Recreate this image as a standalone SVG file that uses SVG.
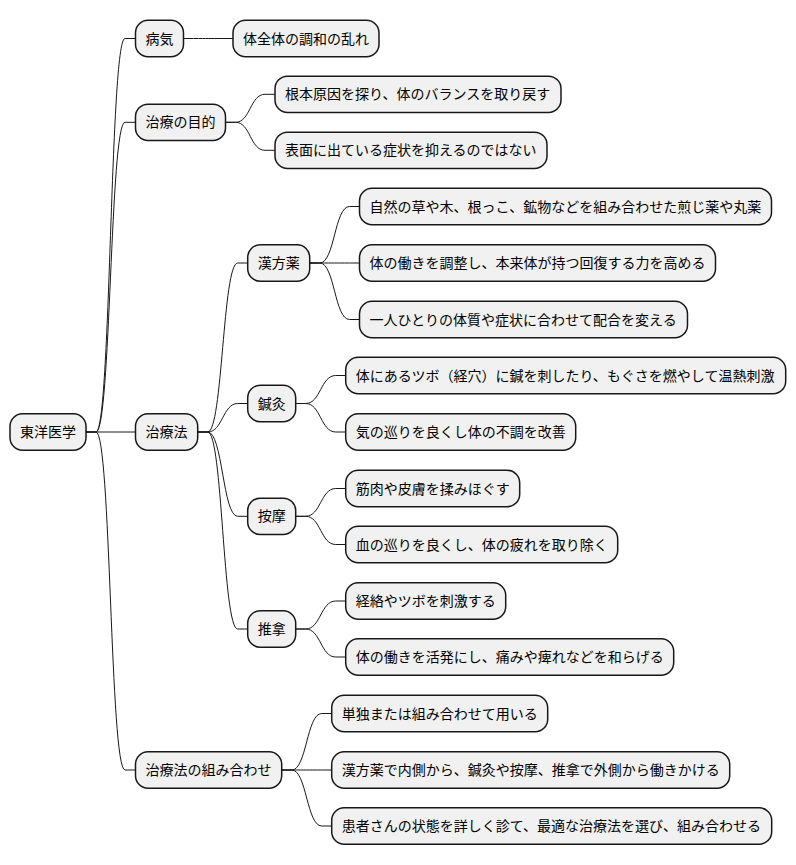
<svg xmlns="http://www.w3.org/2000/svg" width="796" height="865" viewBox="0 0 796 865">
<style>
.n rect{fill:#F1F1F1;stroke:#181818;stroke-width:1.5}
.n text{font-family:"Noto Sans CJK JP","Noto Sans",sans-serif;font-size:14px;fill:#000}
#edges path{fill:none;stroke:#181818;stroke-width:1}
</style>
<rect width="796" height="865" fill="#FFFFFF"/>
<g id="edges">
<path d="M86,432 L96,432 C111,432 110,38.5 125,38.5 L135.5,38.5"/>
<path d="M86,432 L96,432 C111,432 110,122.3 125,122.3 L135.5,122.3"/>
<path d="M86,432 L96,432 C111,432 110,432 125,432 L135.5,432"/>
<path d="M86,432 L96,432 C111,432 110,770 125,770 L135.5,770"/>
<path d="M183.5,38.5 L193.5,38.5 C208.5,38.5 208,38.5 223,38.5 L233,38.5"/>
<path d="M225.5,122.3 L235.5,122.3 C250.5,122.3 250,94.3 265,94.3 L275,94.3"/>
<path d="M225.5,122.3 L235.5,122.3 C250.5,122.3 250,150.3 265,150.3 L275,150.3"/>
<path d="M197.7,432 L207.7,432 C222.7,432 222.7,263 237.7,263 L247.7,263"/>
<path d="M197.7,432 L207.7,432 C222.7,432 222.7,403.5 237.7,403.5 L247.7,403.5"/>
<path d="M197.7,432 L207.7,432 C222.7,432 222.7,516.3 237.7,516.3 L247.7,516.3"/>
<path d="M197.7,432 L207.7,432 C222.7,432 222.7,629 237.7,629 L247.7,629"/>
<path d="M309.7,263 L319.7,263 C334.7,263 334.5,206.5 349.5,206.5 L359.5,206.5"/>
<path d="M309.7,263 L319.7,263 C334.7,263 334.5,263 349.5,263 L359.5,263"/>
<path d="M309.7,263 L319.7,263 C334.7,263 334.5,319.5 349.5,319.5 L359.5,319.5"/>
<path d="M295.7,403.5 L305.7,403.5 C320.7,403.5 320.7,375.5 335.7,375.5 L345.7,375.5"/>
<path d="M295.7,403.5 L305.7,403.5 C320.7,403.5 320.7,432 335.7,432 L345.7,432"/>
<path d="M295.7,516.3 L305.7,516.3 C320.7,516.3 320.7,488.5 335.7,488.5 L345.7,488.5"/>
<path d="M295.7,516.3 L305.7,516.3 C320.7,516.3 320.7,544.5 335.7,544.5 L345.7,544.5"/>
<path d="M295.7,629 L305.7,629 C320.7,629 320.7,601 335.7,601 L345.7,601"/>
<path d="M295.7,629 L305.7,629 C320.7,629 320.7,657 335.7,657 L345.7,657"/>
<path d="M281.7,770 L291.7,770 C306.7,770 306.7,713.5 321.7,713.5 L331.7,713.5"/>
<path d="M281.7,770 L291.7,770 C306.7,770 306.7,770 321.7,770 L331.7,770"/>
<path d="M281.7,770 L291.7,770 C306.7,770 306.7,826 321.7,826 L331.7,826"/>
</g>
<g id="root" class="n"><rect x="10" y="413.85" width="76" height="36.3" rx="12.5"/><text x="20" y="437">東洋医学</text></g>
<g id="n_byoki" class="n"><rect x="135.5" y="20.35" width="48" height="36.3" rx="12.5"/><text x="145.5" y="43.5">病気</text></g>
<g id="n_byoki1" class="n"><rect x="233" y="20.35" width="146" height="36.3" rx="12.5"/><text x="243" y="43.5">体全体の調和の乱れ</text></g>
<g id="n_mokuteki" class="n"><rect x="135.5" y="104.15" width="90" height="36.3" rx="12.5"/><text x="145.5" y="127.3">治療の目的</text></g>
<g id="n_mokuteki1" class="n"><rect x="275" y="76.15" width="286" height="36.3" rx="12.5"/><text x="285" y="99.3">根本原因を探り、体のバランスを取り戻す</text></g>
<g id="n_mokuteki2" class="n"><rect x="275" y="132.15" width="272" height="36.3" rx="12.5"/><text x="285" y="155.3">表面に出ている症状を抑えるのではない</text></g>
<g id="n_chiryoho" class="n"><rect x="135.5" y="413.85" width="62.2" height="36.3" rx="12.5"/><text x="145.5" y="437">治療法</text></g>
<g id="n_kampo" class="n"><rect x="247.7" y="244.85" width="62" height="36.3" rx="12.5"/><text x="257.7" y="268">漢方薬</text></g>
<g id="n_kampo1" class="n"><rect x="359.5" y="188.35" width="412" height="36.3" rx="12.5"/><text x="369.5" y="211.5">自然の草や木、根っこ、鉱物などを組み合わせた煎じ薬や丸薬</text></g>
<g id="n_kampo2" class="n"><rect x="359.5" y="244.85" width="356" height="36.3" rx="12.5"/><text x="369.5" y="268">体の働きを調整し、本来体が持つ回復する力を高める</text></g>
<g id="n_kampo3" class="n"><rect x="359.5" y="301.35" width="328" height="36.3" rx="12.5"/><text x="369.5" y="324.5">一人ひとりの体質や症状に合わせて配合を変える</text></g>
<g id="n_shinkyu" class="n"><rect x="247.7" y="385.35" width="48" height="36.3" rx="12.5"/><text x="257.7" y="408.5">鍼灸</text></g>
<g id="n_shinkyu1" class="n"><rect x="345.7" y="357.35" width="440" height="36.3" rx="12.5"/><text x="355.7" y="380.5">体にあるツボ（経穴）に鍼を刺したり、もぐさを燃やして温熱刺激</text></g>
<g id="n_shinkyu2" class="n"><rect x="345.7" y="413.85" width="230" height="36.3" rx="12.5"/><text x="355.7" y="437">気の巡りを良くし体の不調を改善</text></g>
<g id="n_amma" class="n"><rect x="247.7" y="498.15" width="48" height="36.3" rx="12.5"/><text x="257.7" y="521.3">按摩</text></g>
<g id="n_amma1" class="n"><rect x="345.7" y="470.35" width="174" height="36.3" rx="12.5"/><text x="355.7" y="493.5">筋肉や皮膚を揉みほぐす</text></g>
<g id="n_amma2" class="n"><rect x="345.7" y="526.35" width="272" height="36.3" rx="12.5"/><text x="355.7" y="549.5">血の巡りを良くし、体の疲れを取り除く</text></g>
<g id="n_suina" class="n"><rect x="247.7" y="610.85" width="48" height="36.3" rx="12.5"/><text x="257.7" y="634">推拿</text></g>
<g id="n_suina1" class="n"><rect x="345.7" y="582.85" width="160" height="36.3" rx="12.5"/><text x="355.7" y="606">経絡やツボを刺激する</text></g>
<g id="n_suina2" class="n"><rect x="345.7" y="638.85" width="328" height="36.3" rx="12.5"/><text x="355.7" y="662">体の働きを活発にし、痛みや痺れなどを和らげる</text></g>
<g id="n_kumiawase" class="n"><rect x="135.5" y="751.85" width="146.2" height="36.3" rx="12.5"/><text x="145.5" y="775">治療法の組み合わせ</text></g>
<g id="n_kumiawase1" class="n"><rect x="331.7" y="695.35" width="216" height="36.3" rx="12.5"/><text x="341.7" y="718.5">単独または組み合わせて用いる</text></g>
<g id="n_kumiawase2" class="n"><rect x="331.7" y="751.85" width="398" height="36.3" rx="12.5"/><text x="341.7" y="775">漢方薬で内側から、鍼灸や按摩、推拿で外側から働きかける</text></g>
<g id="n_kumiawase3" class="n"><rect x="331.7" y="807.85" width="440" height="36.3" rx="12.5"/><text x="341.7" y="831">患者さんの状態を詳しく診て、最適な治療法を選び、組み合わせる</text></g>
</svg>
